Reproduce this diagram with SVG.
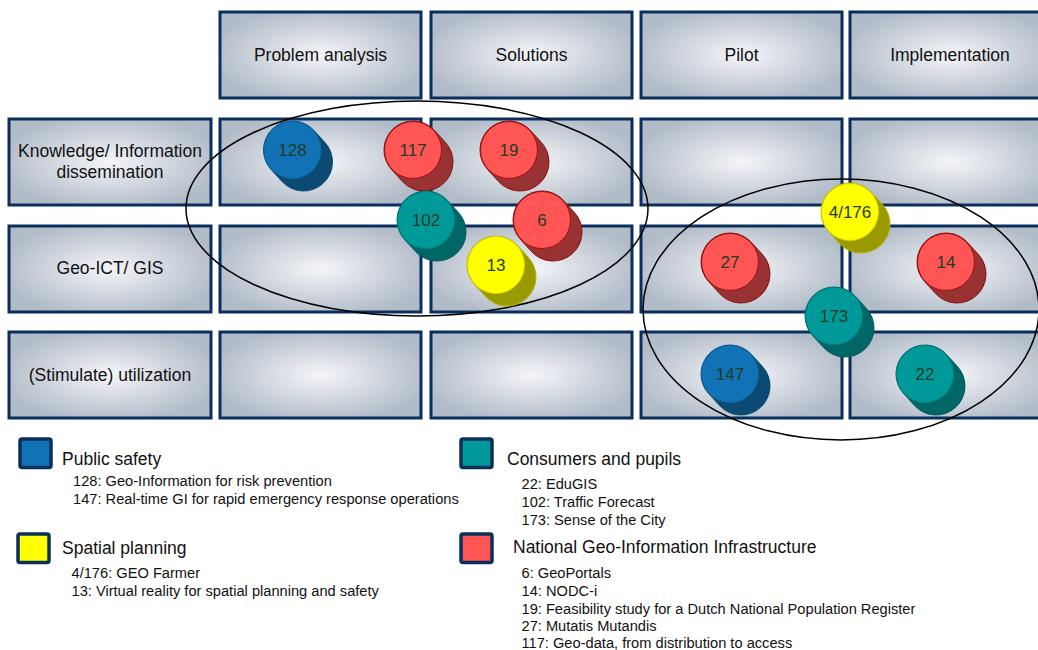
<svg xmlns="http://www.w3.org/2000/svg" xmlns:xlink="http://www.w3.org/1999/xlink" width="1038" height="650" viewBox="0 0 1038 650">
<defs>
<radialGradient id="cellGrad" cx="0.5" cy="0.5" r="0.55">
<stop offset="0" stop-color="#F4F5F8"/>
<stop offset="1" stop-color="#B2BCC8"/>
</radialGradient>
<path id="cyl" d="M21.38,-19.6 L32.38,-7.6 A29,29 0 0 1 -10.38,31.6 L-21.38,19.6 A29,29 0 0 1 21.38,-19.6 Z"/>
</defs>
<style>
.cell{fill:url(#cellGrad);stroke:#0B2F5C;stroke-width:3}
.lbl{font-family:"Liberation Sans",Arial,sans-serif;font-size:17.5px;fill:#111;text-anchor:middle}
.num{font-family:"Liberation Sans",Arial,sans-serif;font-size:17px;fill:#233D23;text-anchor:middle}
.clu{fill:none;stroke:#000;stroke-width:1.5}
.sw{stroke:#0B2F5C;stroke-width:3.5}
.lh{font-family:"Liberation Sans",Arial,sans-serif;font-size:17.5px;fill:#111}
.li{font-family:"Liberation Sans",Arial,sans-serif;font-size:14.65px;fill:#111}
.bS{fill:#0A4A73;stroke:#0A4A73;stroke-width:1}
.bF{fill:#1172B5;stroke:#0E66A3;stroke-width:1}
.rS{fill:#993333;stroke:#8A0E0E;stroke-width:1}
.rF{fill:#FF5555;stroke:#A01010;stroke-width:1}
.tS{fill:#006666;stroke:#005A5A;stroke-width:1}
.tF{fill:#009999;stroke:#008585;stroke-width:1}
.yS{fill:#999900;stroke:#B5B500;stroke-width:1}
.yF{fill:#FFFF00;stroke:#D8D800;stroke-width:1}
</style>
<rect width="1038" height="650" fill="#fff"/>

<g id="header-problem-analysis"><rect class="cell" x="220" y="12" width="201" height="86"/><text class="lbl" x="320.5" y="61">Problem analysis</text></g>
<g id="header-solutions"><rect class="cell" x="431" y="12" width="201" height="86"/><text class="lbl" x="531.5" y="61">Solutions</text></g>
<g id="header-pilot"><rect class="cell" x="641" y="12" width="201" height="86"/><text class="lbl" x="741.5" y="61">Pilot</text></g>
<g id="header-implementation"><rect class="cell" x="850" y="12" width="201" height="86"/><text class="lbl" x="950" y="61">Implementation</text></g>

<g id="row-knowledge"><rect class="cell" x="9" y="119" width="202" height="86"/><text class="lbl" x="110" y="157">Knowledge/ Information</text><text class="lbl" x="110" y="178">dissemination</text></g>
<g id="row-geoict"><rect class="cell" x="9" y="226" width="202" height="86"/><text class="lbl" x="110" y="274">Geo-ICT/ GIS</text></g>
<g id="row-utilization"><rect class="cell" x="9" y="332" width="202" height="86"/><text class="lbl" x="110" y="381">(Stimulate) utilization</text></g>

<g id="cells">
<rect class="cell" x="220" y="119" width="201" height="86"/>
<rect class="cell" x="431" y="119" width="201" height="86"/>
<rect class="cell" x="641" y="119" width="201" height="86"/>
<rect class="cell" x="850" y="119" width="201" height="86"/>
<rect class="cell" x="220" y="226" width="201" height="86"/>
<rect class="cell" x="431" y="226" width="201" height="86"/>
<rect class="cell" x="641" y="226" width="201" height="86"/>
<rect class="cell" x="850" y="226" width="201" height="86"/>
<rect class="cell" x="220" y="332" width="201" height="86"/>
<rect class="cell" x="431" y="332" width="201" height="86"/>
<rect class="cell" x="641" y="332" width="201" height="86"/>
<rect class="cell" x="850" y="332" width="201" height="86"/>
</g>

<g id="connectors">
<ellipse class="clu" cx="417" cy="208.5" rx="231" ry="107.5"/>
<ellipse class="clu" cx="841" cy="309.5" rx="198" ry="130.5"/>
</g>

<g id="b128" transform="translate(292.5,150)"><use xlink:href="#cyl" class="bS"/><circle class="bF" r="28.5"/><text class="num" y="6">128</text></g>
<g id="b117" transform="translate(413,150)"><use xlink:href="#cyl" class="rS"/><circle class="rF" r="28.5"/><text class="num" y="6">117</text></g>
<g id="b19" transform="translate(509,150)"><use xlink:href="#cyl" class="rS"/><circle class="rF" r="28.5"/><text class="num" y="6">19</text></g>
<g id="b102" transform="translate(426,220)"><use xlink:href="#cyl" class="tS"/><circle class="tF" r="28.5"/><text class="num" y="6">102</text></g>
<g id="b6" transform="translate(542,220)"><use xlink:href="#cyl" class="rS"/><circle class="rF" r="28.5"/><text class="num" y="6">6</text></g>
<g id="b13" transform="translate(496,265)"><use xlink:href="#cyl" class="yS"/><circle class="yF" r="28.5"/><text class="num" y="6">13</text></g>
<g id="b4-176" transform="translate(850,212)"><use xlink:href="#cyl" class="yS"/><circle class="yF" r="28.5"/><text class="num" y="6">4/176</text></g>
<g id="b27" transform="translate(730,262)"><use xlink:href="#cyl" class="rS"/><circle class="rF" r="28.5"/><text class="num" y="6">27</text></g>
<g id="b14" transform="translate(946,262)"><use xlink:href="#cyl" class="rS"/><circle class="rF" r="28.5"/><text class="num" y="6">14</text></g>
<g id="b173" transform="translate(834,316)"><use xlink:href="#cyl" class="tS"/><circle class="tF" r="28.5"/><text class="num" y="6">173</text></g>
<g id="b147" transform="translate(730,374)"><use xlink:href="#cyl" class="bS"/><circle class="bF" r="28.5"/><text class="num" y="6">147</text></g>
<g id="b22" transform="translate(925,374)"><use xlink:href="#cyl" class="tS"/><circle class="tF" r="28.5"/><text class="num" y="6">22</text></g>

<g id="legend-public-safety">
<rect class="sw" x="20" y="439" width="31" height="28.5" rx="2" fill="#1172B5"/>
<text class="lh" x="62" y="465">Public safety</text>
<text class="li" x="73" y="486">128: Geo-Information for risk prevention</text>
<text class="li" x="73" y="504">147: Real-time GI for rapid emergency response operations</text>
</g>
<g id="legend-spatial-planning">
<rect class="sw" x="18" y="534" width="31" height="28.5" rx="2" fill="#FFFF00"/>
<text class="lh" x="62" y="554">Spatial planning</text>
<text class="li" x="71.5" y="578">4/176: GEO Farmer</text>
<text class="li" x="71.5" y="596">13: Virtual reality for spatial planning and safety</text>
</g>
<g id="legend-consumers">
<rect class="sw" x="461" y="439" width="31" height="28.5" rx="2" fill="#009999"/>
<text class="lh" x="507" y="465">Consumers and pupils</text>
<text class="li" x="521.5" y="489">22: EduGIS</text>
<text class="li" x="521.5" y="507">102: Traffic Forecast</text>
<text class="li" x="521.5" y="525">173: Sense of the City</text>
</g>
<g id="legend-ngii">
<rect class="sw" x="461" y="534" width="31" height="28.5" rx="2" fill="#FF5555"/>
<text class="lh" x="513" y="553">National Geo-Information Infrastructure</text>
<text class="li" x="521.5" y="578">6: GeoPortals</text>
<text class="li" x="521.5" y="596">14: NODC-i</text>
<text class="li" x="521.5" y="614">19: Feasibility study for a Dutch National Population Register</text>
<text class="li" x="521.5" y="631">27: Mutatis Mutandis</text>
<text class="li" x="521.5" y="648">117: Geo-data, from distribution to access</text>
</g>
</svg>
